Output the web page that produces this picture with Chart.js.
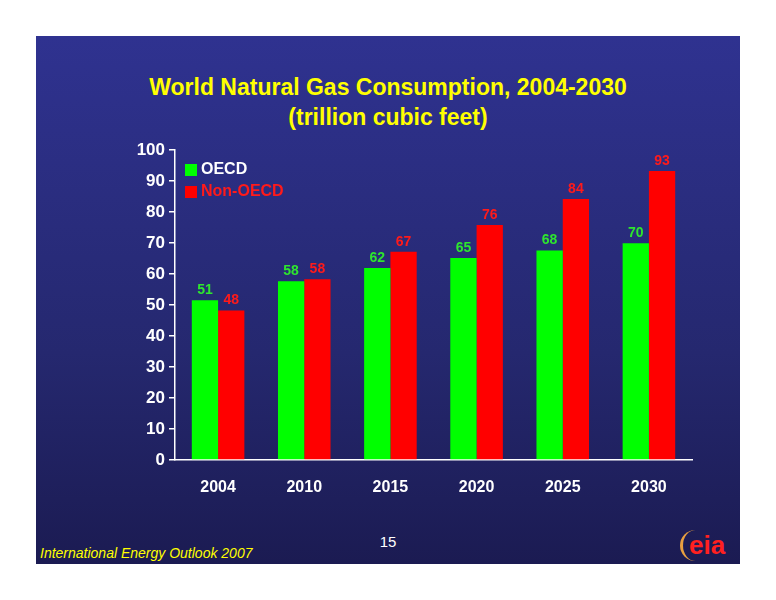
<!DOCTYPE html>
<html>
<head>
<meta charset="utf-8">
<script src="https://cdn.jsdelivr.net/npm/chart.js@4"></script>
<style>
  body { margin: 0; background: #fff; font-family: "Liberation Sans", Arial, sans-serif; }
  #panel { position: absolute; left: 36px; top: 36px; width: 704px; height: 528px;
    background: linear-gradient(#2f3290, #25286f 60%, #1b1b52); }
  #title { position: absolute; left: 0; top: 72px; width: 776px; text-align: center;
    color: #ffff00; font-weight: bold; font-size: 23px; line-height: 30px; }
  #wrap { position: absolute; left: 0; top: 0; width: 776px; height: 600px; }
  #page { position: absolute; left: 0; width: 776px; top: 533px; text-align: center; color: #fff; font-size: 15px; }
  #src { position: absolute; left: 40px; top: 545px; color: #ffff00; font-style: italic; font-size: 14px; }
  #logo { position: absolute; left: 680px; top: 530px; color: #ff2020; font-weight: bold; font-size: 26px;
    border-left: 3px solid #e8a040; border-radius: 20px; padding: 0 6px; }
</style>
</head>
<body>
<div id="panel"></div>
<div id="title">World Natural Gas Consumption, 2004-2030<br>(trillion cubic feet)</div>
<div id="page">15</div>
<div id="src">International Energy Outlook 2007</div>
<div id="logo">eia</div>
<div id="wrap"><canvas id="c" width="776" height="600"></canvas></div>
<script>
const years = ["2004", "2010", "2015", "2020", "2025", "2030"];
const oecd = [51.5, 57.7, 61.9, 65.2, 67.6, 69.9];
const nonOecd = [48.2, 58.3, 67.2, 75.8, 84.2, 93.2];
const oecdLabels = ["51", "58", "62", "65", "68", "70"];
const nonOecdLabels = ["48", "58", "67", "76", "84", "93"];

const valueLabels = {
  id: "valueLabels",
  afterDatasetsDraw(chart) {
    const ctx = chart.ctx;
    ctx.save();
    ctx.font = "bold 14px 'Liberation Sans', Arial";
    ctx.textAlign = "center";
    ctx.textBaseline = "bottom";
    const sets = [[oecdLabels, "#2ee62e", 0], [nonOecdLabels, "#ff1a1a", 1]];
    sets.forEach(([labels, color, i]) => {
      ctx.fillStyle = color;
      chart.getDatasetMeta(i).data.forEach((bar, j) => {
        ctx.fillText(labels[j], bar.x, bar.y - 3);
      });
    });
    // legend inside chart area
    ctx.textAlign = "left";
    ctx.textBaseline = "middle";
    ctx.font = "bold 16px 'Liberation Sans', Arial";
    chart.data.datasets.forEach((ds, i) => {
      const y = 170 + i * 22;
      ctx.fillStyle = ds.backgroundColor;
      ctx.fillRect(185, y - 6, 12, 12);
      ctx.fillStyle = ds.labelColor;
      ctx.fillText(ds.label, 201, y);
    });
    ctx.restore();
  }
};

new Chart(document.getElementById("c"), {
  type: "bar",
  data: {
    labels: years,
    datasets: [
      { label: "OECD", data: oecd, backgroundColor: "#00ff00", labelColor: "#ffffff" },
      { label: "Non-OECD", data: nonOecd, backgroundColor: "#ff0000", labelColor: "#ff1a1a" },
    ],
  },
  options: {
    responsive: false,
    animation: false,
    layout: { padding: { top: 150, right: 84, left: 0, bottom: 0 } },
    datasets: { bar: { categoryPercentage: 0.61, barPercentage: 1 } },
    plugins: { legend: { display: false }, tooltip: { enabled: false } },
    scales: {
      x: {
        grid: { display: false, drawTicks: false },
        border: { color: "#ffffff", width: 1.5 },
        ticks: { color: "#fff", font: { size: 16, weight: "bold", family: "'Liberation Sans', Arial" }, padding: 18 },
        afterFit(s) { s.height = 140; },
      },
      y: {
        min: 0, max: 100,
        grid: { display: true, drawOnChartArea: false, drawTicks: true, tickLength: 6, color: "#fff", lineWidth: 1.5 },
        border: { color: "#ffffff", width: 1.5 },
        ticks: { stepSize: 10, color: "#fff", font: { size: 17, weight: "bold", family: "'Liberation Sans', Arial" }, padding: 4 },
        afterFit(s) { s.width = 175; },
      },
    },
  },
  plugins: [valueLabels],
});
</script>
</body>
</html>
